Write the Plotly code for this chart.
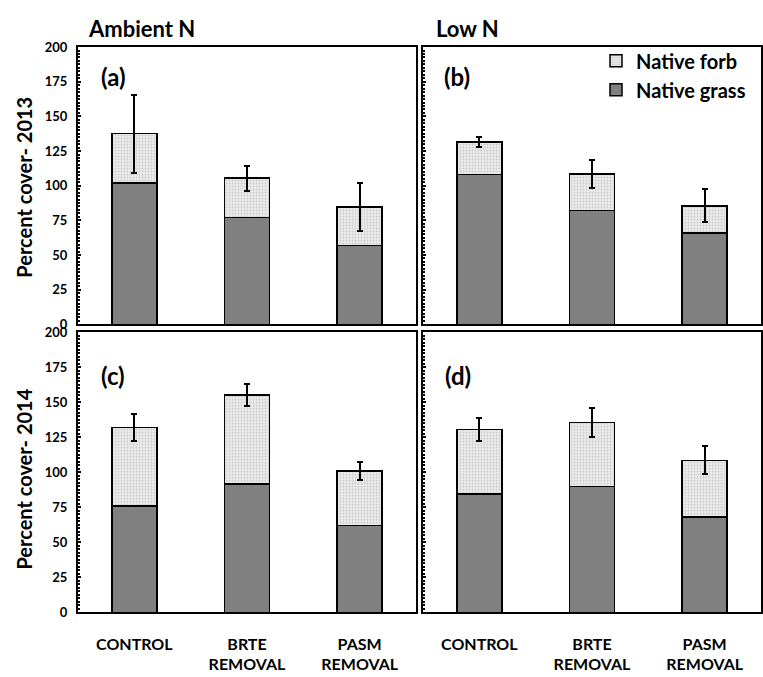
import plotly.graph_objects as go

categories = ["CONTROL", "BRTE<br>REMOVAL", "PASM<br>REMOVAL"]

# (a) Ambient N 2013
grass_a = [102, 77, 57]
forb_a = [35.5, 28.5, 27.5]
err_a = [28, 9, 17.5]
# (b) Low N 2013
grass_b = [108, 82, 66]
forb_b = [23.5, 26.5, 19.5]
err_b = [3.5, 10, 12]
# (c) Ambient N 2014
grass_c = [76, 91.5, 62]
forb_c = [56, 63.5, 39]
err_c = [9.5, 8, 6.5]
# (d) Low N 2014
grass_d = [84.5, 90, 68]
forb_d = [46, 45.5, 40.5]
err_d = [8.5, 10.5, 10]

y_ticks = [0, 25, 50, 75, 100, 125, 150, 175, 200]

FONT = "Lato"
W, H = 763, 677

def px(x):
    return x / W

def py(y):
    return 1 - y / H

panels = [
    ("x", "y", grass_a, forb_a, err_a),
    ("x2", "y2", grass_b, forb_b, err_b),
    ("x3", "y3", grass_c, forb_c, err_c),
    ("x4", "y4", grass_d, forb_d, err_d),
]

fig = go.Figure()
for i, (xa, ya, g, f, e) in enumerate(panels):
    fig.add_trace(go.Bar(
        x=categories, y=g, xaxis=xa, yaxis=ya, name="Native grass",
        legendgroup="grass", showlegend=(i == 1),
        marker=dict(color="#808080", line=dict(color="black", width=1.5)),
        legendrank=2,
    ))
    fig.add_trace(go.Bar(
        x=categories, y=f, xaxis=xa, yaxis=ya, name="Native forb",
        legendgroup="forb", showlegend=(i == 1),
        marker=dict(color="#e6e6e6", line=dict(color="black", width=1.5),
                    pattern=dict(shape=".", fgcolor="#a8a8a8", bgcolor="#ececec",
                                 size=3, solidity=0.35)),
        error_y=dict(type="data", array=e, visible=True, color="black",
                     thickness=2, width=3),
        legendrank=1,
    ))

xdom_l = [px(78), px(416)]
xdom_r = [px(423), px(761)]
ydom_t = [py(324), py(40)]
ydom_b = [py(619), py(332)]

axis_common = dict(showline=True, linecolor="black", linewidth=2, mirror=True,
                   showgrid=False, zeroline=False)

def yax(dom, labels, anchor):
    return dict(axis_common, domain=dom, range=[0, 200], tickvals=y_ticks,
                ticks="inside", ticklen=3, tickwidth=1.5, tickcolor="black",
                minor=dict(ticks="inside", ticklen=2, dtick=2.5, tickwidth=1.5,
                           tickcolor="black"),
                showticklabels=labels, anchor=anchor, ticklabelstandoff=6,
                tickfont=dict(family=FONT, size=13, color="black", weight="bold"))

def xax(dom, labels, anchor):
    return dict(axis_common, domain=dom, ticks="", showticklabels=labels,
                anchor=anchor, categoryorder="array", categoryarray=categories,
                ticklabelstandoff=16,
                tickfont=dict(family=FONT, size=16, color="black", weight="bold"))

fig.update_layout(
    width=W, height=H,
    margin=dict(l=0, r=0, t=0, b=0),
    paper_bgcolor="white", plot_bgcolor="white",
    barmode="stack", bargap=0.6,
    xaxis=xax(xdom_l, False, "y"),
    yaxis=yax(ydom_t, True, "x"),
    xaxis2=xax(xdom_r, False, "y2"),
    yaxis2=yax(ydom_t, False, "x2"),
    xaxis3=xax(xdom_l, True, "y3"),
    yaxis3=yax(ydom_b, True, "x3"),
    xaxis4=xax(xdom_r, True, "y4"),
    yaxis4=yax(ydom_b, False, "x4"),
    legend=dict(x=px(596), y=py(69), xanchor="left", yanchor="middle",
                bgcolor="rgba(0,0,0,0)", tracegroupgap=0, itemwidth=30,
                font=dict(family=FONT, size=20, color="black", weight="bold")),
    showlegend=True,
)

annots = [
    dict(text="Ambient N", x=px(86), y=py(21), size=22),
    dict(text="Low N", x=px(434), y=py(21), size=22),
    dict(text="(a)", x=px(99), y=py(70), size=24),
    dict(text="(b)", x=px(442), y=py(70), size=24),
    dict(text="(c)", x=px(99), y=py(376), size=24),
    dict(text="(d)", x=px(443), y=py(376), size=24),
]
for a in annots:
    fig.add_annotation(text=a["text"], x=a["x"], y=a["y"], xref="paper", yref="paper",
                       xanchor="left", yanchor="middle", showarrow=False,
                       font=dict(family=FONT, size=a["size"], color="black", weight="bold"))

for txt, yc in [("Percent cover- 2013", 184), ("Percent cover- 2014", 483)]:
    fig.add_annotation(text=txt, x=px(24), y=py(yc), xref="paper", yref="paper",
                       xanchor="center", yanchor="middle", textangle=-90, showarrow=False,
                       font=dict(family=FONT, size=20, color="black", weight="bold"))

fig.write_html("out.html", config={"displayModeBar": False},
               post_script="document.body.style.margin='0';document.body.style.overflow='hidden';")
